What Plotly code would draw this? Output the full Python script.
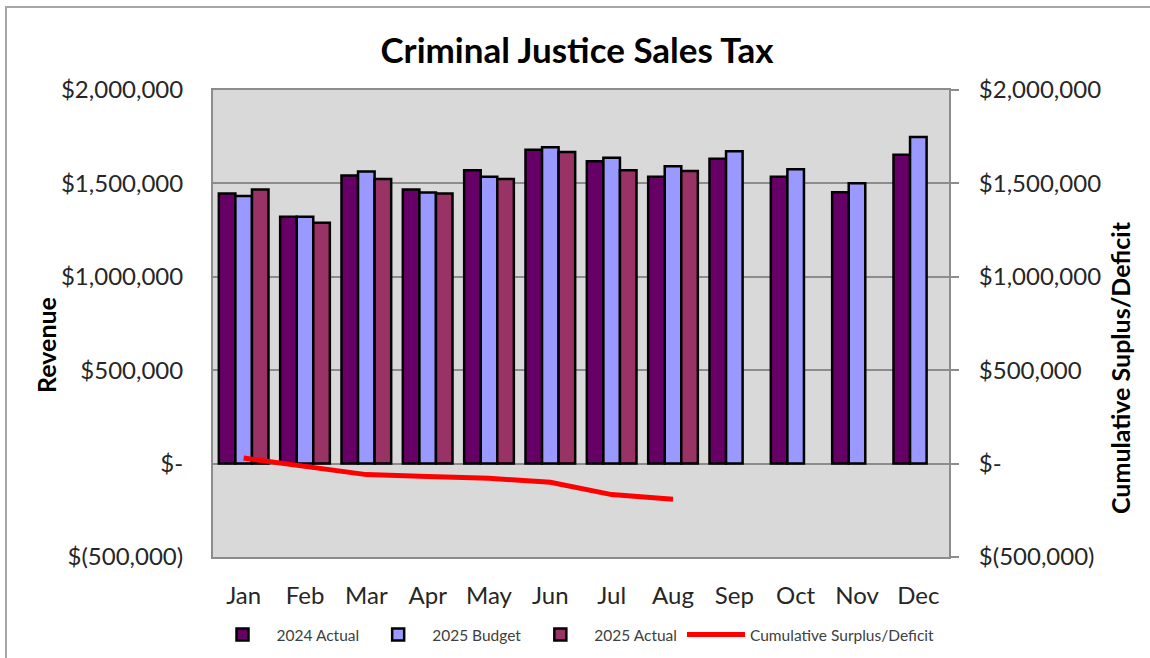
import plotly.graph_objects as go

months = ["Jan", "Feb", "Mar", "Apr", "May", "Jun", "Jul", "Aug", "Sep", "Oct", "Nov", "Dec"]
actual_2024 = [1446000, 1321000, 1542000, 1467000, 1571000, 1680000, 1619000, 1535000, 1632000, 1535000, 1453000, 1653000]
budget_2025 = [1432000, 1321000, 1564000, 1451000, 1535000, 1693000, 1637000, 1592000, 1672000, 1576000, 1501000, 1748000]
actual_2025 = [1467000, 1289000, 1523000, 1446000, 1523000, 1668000, 1571000, 1567000, None, None, None, None]
cumulative = [30000, -14000, -59000, -69000, -79000, -100000, -166000, -191000, None, None, None, None]

tick_vals = [-500000, 0, 500000, 1000000, 1500000, 2000000]
tick_text = ["$(500,000)", "$-", "$500,000", "$1,000,000", "$1,500,000", "$2,000,000"]

FONT = "Lato, 'Open Sans', sans-serif"
TXT = "#262626"

fig = go.Figure()
bar_line = dict(color="black", width=2.5)
fig.add_bar(x=months, y=actual_2024, name="2024 Actual", marker=dict(color="#660066", line=bar_line))
fig.add_bar(x=months, y=budget_2025, name="2025 Budget", marker=dict(color="#9999FF", line=bar_line))
fig.add_bar(x=months, y=actual_2025, name="2025 Actual", marker=dict(color="#993366", line=bar_line))
fig.add_scatter(x=months, y=cumulative, name="Cumulative Surplus/Deficit", mode="lines",
                line=dict(color="#FF0000", width=5), yaxis="y2")

fig.update_layout(
    width=1150, height=658,
    margin=dict(l=213, r=201, t=90, b=101, autoexpand=False),
    paper_bgcolor="white", plot_bgcolor="#D9D9D9",
    barmode="group", bargap=0.19, bargroupgap=0,
    font=dict(family=FONT, color=TXT),
    title=dict(text="<b>Criminal Justice Sales Tax</b>", x=577 / 1150, xanchor="center",
               y=1 - 51 / 658, yanchor="middle", font=dict(size=35, color="black", family=FONT)),
    showlegend=True,
    legend=dict(orientation="h", x=574 / 1150, xanchor="center", xref="container",
                y=1 - 635 / 658, yanchor="middle", yref="container",
                font=dict(size=15.5, color="#404040"), traceorder="normal",
                bgcolor="rgba(0,0,0,0)", itemwidth=58),
    xaxis=dict(showline=True, linecolor="#8C8C8C", linewidth=2, mirror=True, automargin=False,
               tickfont=dict(size=24, color=TXT), ticks="", ticklabelstandoff=16,
               showgrid=False),
    yaxis=dict(range=[-500000, 2000000], tickvals=tick_vals, ticktext=tick_text, automargin=False,
               showgrid=True, gridcolor="#8C8C8C", gridwidth=2,
               zeroline=True, zerolinecolor="#8C8C8C", zerolinewidth=2,
               showline=True, linecolor="#8C8C8C", linewidth=2, mirror=True,
               tickfont=dict(size=24, color=TXT), ticks="", ticklabelstandoff=23),
    yaxis2=dict(range=[-500000, 2000000], tickvals=tick_vals, ticktext=tick_text, automargin=False,
                overlaying="y", side="right", showgrid=False, zeroline=False,
                showline=True, linecolor="#8C8C8C", linewidth=2,
                ticks="outside", ticklen=8, tickwidth=2, tickcolor="#8C8C8C",
                tickfont=dict(size=24, color=TXT), ticklabelstandoff=15),
)

# Axis titles as annotations
fig.add_annotation(text="<b>Revenue</b>", xref="paper", yref="paper",
                   x=(46 - 213) / 736, y=(557 - 345) / 467, textangle=-90,
                   showarrow=False, font=dict(size=25, color="black", family=FONT),
                   xanchor="center", yanchor="middle")
fig.add_annotation(text="<b>Cumulative Suplus/Deficit</b>", xref="paper", yref="paper",
                   x=(1120 - 213) / 736, y=(557 - 368) / 467, textangle=-90,
                   showarrow=False, font=dict(size=25, color="black", family=FONT),
                   xanchor="center", yanchor="middle")

# Outer chart border (left and top visible)
fig.add_shape(type="rect", xref="paper", yref="paper",
              x0=(6 - 213) / 736, x1=(1170 - 213) / 736,
              y0=(557 - 680) / 467, y1=(557 - 7) / 467,
              line=dict(color="#A6A6A6", width=2), layer="below")

fig.write_html("out.html", config={"displayModeBar": False},
               post_script="document.body.style.margin='0px';")
